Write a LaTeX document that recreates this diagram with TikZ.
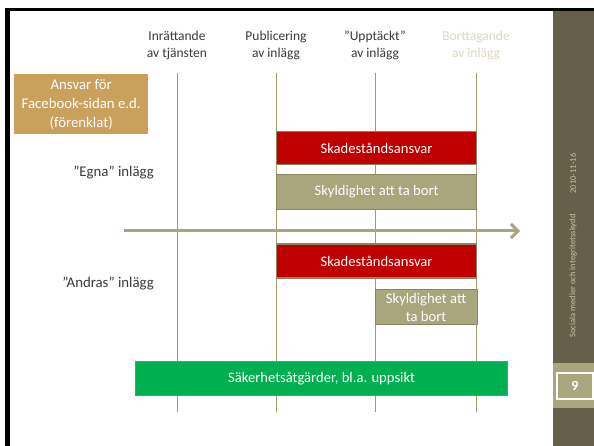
\documentclass[tikz,border=0pt]{standalone}
\usepackage{fontspec}
\setmainfont{Carlito}
\usetikzlibrary{arrows.meta}
\definecolor{side}{HTML}{665F4A}
\definecolor{band}{HTML}{A9A57C}
\definecolor{olive}{HTML}{A9A57C}
\definecolor{olivedk}{HTML}{8C8660}
\definecolor{vline}{HTML}{A39D6E}
\definecolor{redbox}{HTML}{C00000}
\definecolor{greenbox}{HTML}{00B050}
\definecolor{tan}{HTML}{C9A05C}
\definecolor{txt}{HTML}{3A3A3A}
\definecolor{pale}{HTML}{DDD9C3}
\definecolor{sidetxt}{HTML}{C8C4A4}
\tikzset{
  hdr/.style={align=center, text=txt, font=\fontsize{13.5}{17}\selectfont, inner sep=0pt},
  bar/.style={draw=olivedk, line width=1.2pt, text=white, font=\fontsize{14.6}{18}\selectfont, align=center, inner sep=0pt, anchor=north west},
  lbl/.style={text=txt, font=\fontsize{14.8}{18}\selectfont, inner sep=0pt, anchor=east},
  tline/.style={draw=vline, line width=1pt},
}
\begin{document}
\begin{tikzpicture}[x=1pt,y=-1pt]
\useasboundingbox (0,0) rectangle (594,446);
\fill[white] (0,0) rectangle (594,446);
% frame
\fill[black] (5,8) rectangle (594,11.5);
\fill[black] (5,8) rectangle (9.5,446);
\fill[side] (553,11.5) rectangle (594,446);
\fill[band] (553,363) rectangle (594,408);
\node[draw=white, line width=1.2pt, fill=band, minimum width=36pt, minimum height=26pt, inner sep=0pt, text=white, font=\fontsize{14}{16}\selectfont\bfseries] (num) at (575,386) {9};
\node[rotate=90, text=sidetxt, font=\fontsize{8.5}{10}\selectfont, inner sep=0pt] (date) at (573,173.5) {2010-11-16};
\node[rotate=90, text=sidetxt, font=\fontsize{8.6}{10}\selectfont, inner sep=0pt] (course) at (573,276) {Sociala medier och integritetsskydd};
% headers
\node[hdr] (h1) at (177,45) {Inrättande\\av tjänsten};
\node[hdr] (h2) at (276,45) {Publicering\\av inlägg};
\node[hdr] (h3) at (375,45) {”Upptäckt”\\av inlägg};
\node[hdr, text=pale] (h4) at (476,45) {Borttagande\\av inlägg};
% time lines
\coordinate (t1a) at (177,73); \coordinate (t1b) at (177,412);
\coordinate (t2a) at (276,73); \coordinate (t2b) at (276,412);
\coordinate (t3a) at (375,73); \coordinate (t3b) at (375,412);
\coordinate (t4a) at (476.5,73); \coordinate (t4b) at (476.5,412);
\draw[tline] (t1a) -- (t1b);
\draw[tline] (t2a) -- (t2b);
\draw[tline] (t3a) -- (t3b);
\draw[tline] (t4a) -- (t4b);
% arrow
\coordinate (ar1) at (124,231); \coordinate (ar2) at (520,231);
\draw[draw=olive, line width=3pt, -{Straight Barb[length=7pt,width=14pt,line width=3pt]}] (ar1) -- (ar2);
% ansvar box
\node[fill=tan, text=white, font=\fontsize{14.8}{19}\selectfont, align=center, inner sep=0pt, minimum width=134pt, minimum height=60pt, anchor=north west] (ansvar) at (14,74) {Ansvar för\\Facebook-sidan e.d.\\(förenklat)};
% labels
\node[lbl] (egna) at (154,173) {”Egna” inlägg};
\node[lbl] (andras) at (154,284) {”Andras” inlägg};
% bars
\node[bar, fill=redbox, minimum width=200pt, minimum height=33pt] (r1) at (276,131) {Skadeståndsansvar};
\node[bar, fill=olive, minimum width=200pt, minimum height=35pt] (o1) at (276,174) {Skyldighet att ta bort};
\node[bar, fill=redbox, minimum width=200pt, minimum height=34pt] (r2) at (276,243.5) {Skadeståndsansvar};
\node[bar, fill=olive, minimum width=102pt, minimum height=35pt] (o2) at (374.5,289) {Skyldighet att\\ta bort};
\node[bar, fill=greenbox, minimum width=372pt, minimum height=34pt] (g) at (135,361) {Säkerhetsåtgärder, bl.a. uppsikt};
\end{tikzpicture}
\end{document}
